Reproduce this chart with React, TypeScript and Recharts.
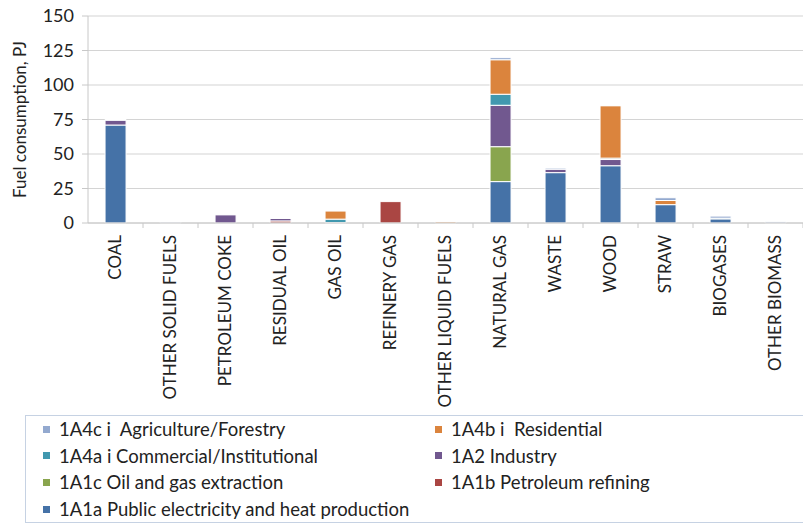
import React from "react";
import { Bar, BarChart, CartesianGrid, Legend, XAxis, YAxis } from "recharts";

const fuels = [
  "COAL",
  "OTHER SOLID FUELS",
  "PETROLEUM COKE",
  "RESIDUAL OIL",
  "GAS OIL",
  "REFINERY GAS",
  "OTHER LIQUID FUELS",
  "NATURAL GAS",
  "WASTE",
  "WOOD",
  "STRAW",
  "BIOGASES",
  "OTHER BIOMASS"
];

// PJ per fuel, same order as fuels
const publicElectricity = [71, 0, 0, 0, 0.3, 0, 0, 30, 36.5, 41.5, 13.3, 3, 0];
const petroleumRefining = [0, 0, 0, 1.5, 0, 15.5, 0, 0, 0, 0, 0, 0, 0];
const oilGasExtraction = [0, 0, 0, 0, 0, 0, 0, 25.3, 0, 0, 0, 0, 0];
const industry = [3.5, 0, 6, 1.8, 0, 0, 0, 30, 2.5, 4.5, 0, 0, 0];
const commercial = [0, 0, 0, 0, 2.5, 0, 0, 8, 0, 1, 0, 0.5, 0];
const residential = [0, 0, 0, 0, 6, 0, 1, 25, 0, 38, 3, 0, 0];
const agriculture = [0.5, 0.6, 0.3, 0.3, 0.3, 0, 0.3, 1.5, 0.8, 0.3, 2, 1.5, 0.8];

const yTicks = [0, 25, 50, 75, 100, 125, 150];

const series = [
  { key: "a1a", name: "1A1a Public electricity and heat production", color: "#4572A7", values: publicElectricity },
  { key: "a1b", name: "1A1b Petroleum refining", color: "#AA4643", values: petroleumRefining },
  { key: "a1c", name: "1A1c Oil and gas extraction", color: "#89A54E", values: oilGasExtraction },
  { key: "a2", name: "1A2 Industry", color: "#71588F", values: industry },
  { key: "a4a", name: "1A4a i Commercial/Institutional", color: "#4198AF", values: commercial },
  { key: "a4b", name: "1A4b i  Residential", color: "#DB843D", values: residential },
  { key: "a4c", name: "1A4c i  Agriculture/Forestry", color: "#93A9CF", values: agriculture }
];

const data = fuels.map((fuel, i) => {
  const row: Record<string, string | number> = { fuel };
  series.forEach((s) => {
    row[s.key] = s.values[i];
  });
  return row;
});

const font = "Lato, 'Open Sans', sans-serif";
const CHART_W = 803;
const Y_AXIS_W = 88;
const halfBand = (CHART_W - Y_AXIS_W) / fuels.length / 2;

function FuelTick(props: any) {
  const { x, y, payload, index } = props;
  const isLast = index === fuels.length - 1;
  return (
    <g>
      {index > 0 && (
        <line x1={x - halfBand} x2={x - halfBand} y1={y} y2={y + 5} stroke="#c8c8c8" />
      )}
      {isLast && (
        <line x1={x + halfBand} x2={x + halfBand} y1={y} y2={y + 5} stroke="#c8c8c8" />
      )}
      <text
        x={x}
        y={y + 12}
        transform={`rotate(-90 ${x} ${y + 12})`}
        textAnchor="end"
        dy="0.35em"
        fill="#222"
        fontSize={17}
        fontFamily={font}
      >
        {payload.value}
      </text>
    </g>
  );
}

function LegendBox() {
  const legendOrder = [
    series[6], series[5],
    series[4], series[3],
    series[2], series[1],
    series[0]
  ];
  return (
    <div
      style={{
        width: 800,
        height: 108,
        border: "1px solid #c6d2e3",
        boxSizing: "border-box",
        padding: "0 0 0 17px",
        display: "grid",
        gridTemplateColumns: "392px 380px",
        gridAutoRows: "26.6px",
        fontFamily: font,
        fontSize: 18.5,
        color: "#222",
        background: "#fff"
      }}
    >
      {legendOrder.map((s) => (
        <div key={s.key} style={{ display: "flex", alignItems: "center", whiteSpace: "pre" }}>
          <span
            style={{
              display: "inline-block",
              flexShrink: 0,
              width: 7,
              height: 7,
              background: s.color,
              marginRight: 9
            }}
          />
          {s.name}
        </div>
      ))}
    </div>
  );
}

export default function App() {
  return (
    <div style={{ position: "absolute", left: 0, top: 0, width: CHART_W, height: 526, background: "#fff", overflow: "hidden" }}>
      <BarChart
        width={CHART_W}
        height={526}
        data={data}
        margin={{ top: 16, right: 0, left: 0, bottom: 3 }}
        barCategoryGap="31%"
      >
        <CartesianGrid vertical={false} stroke="#d4d4d4" strokeWidth={1.2} />
        <XAxis
          dataKey="fuel"
          interval={0}
          height={192}
          tick={<FuelTick />}
          tickSize={0}
          tickMargin={0}
          axisLine={{ stroke: "#c8c8c8" }}
          tickLine={false}
        />
        <YAxis
          width={Y_AXIS_W}
          domain={[0, 150]}
          ticks={yTicks}
          interval={0}
          tick={{ fill: "#222", fontSize: 18, fontFamily: font }}
          tickMargin={8}
          tickSize={6}
          axisLine={{ stroke: "#c8c8c8" }}
          tickLine={{ stroke: "#c8c8c8" }}
          label={{
            value: "Fuel consumption, PJ",
            angle: -90,
            position: "insideLeft",
            offset: 20,
            style: { textAnchor: "middle", fill: "#222", fontSize: 17, fontFamily: font }
          }}
        />
        <Legend
          verticalAlign="bottom"
          content={<LegendBox />}
          wrapperStyle={{ left: 25, width: 800 }}
        />
        {series.map((s) => (
          <Bar
            key={s.key}
            dataKey={s.key}
            name={s.name}
            stackId="fuel"
            fill={s.color}
            stroke="#ffffff"
            strokeWidth={1}
            isAnimationActive={false}
          />
        ))}
      </BarChart>
    </div>
  );
}
